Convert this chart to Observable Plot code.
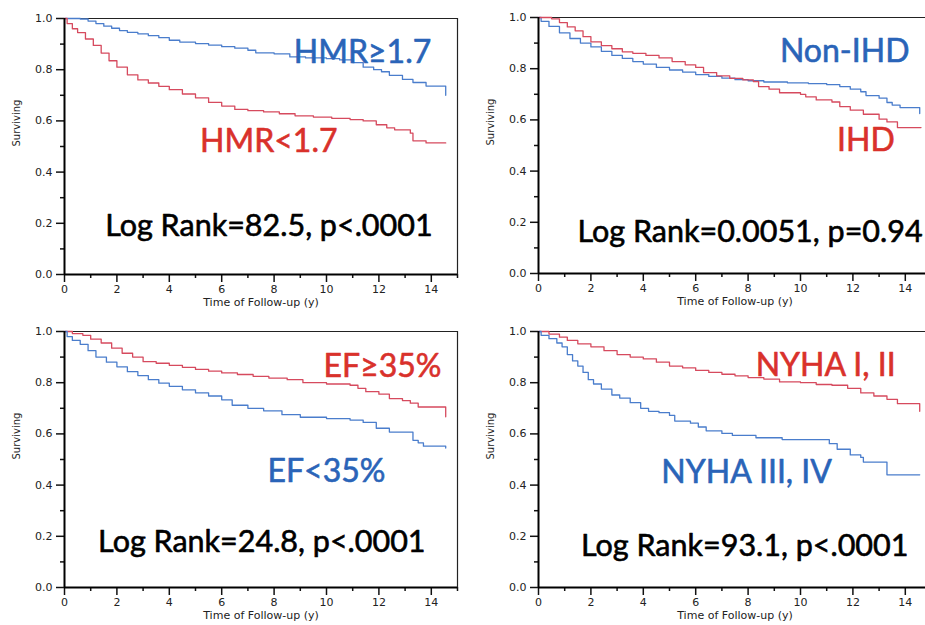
<!DOCTYPE html>
<html><head><meta charset="utf-8">
<script src="https://cdn.jsdelivr.net/npm/d3@7"></script>
<script src="https://cdn.jsdelivr.net/npm/@observablehq/plot@0.6"></script>
<style>
html,body{margin:0;padding:0;background:#fff;overflow:hidden;width:925px;height:625px;position:relative}
.panel{position:absolute;width:462px;height:310px}
.panel svg{max-width:none !important}
</style></head><body>
<div id="p1" class="panel" style="left:0;top:0"></div>
<div id="p2" class="panel" style="left:474px;top:-1px"></div>
<div id="p3" class="panel" style="left:0;top:313px"></div>
<div id="p4" class="panel" style="left:474px;top:313px"></div>
<script>
// ---- axis ticks ----
const xTicks = [0, 2, 4, 6, 8, 10, 12, 14];
const xMinor = [1, 3, 5, 7, 9, 11, 13, 15];
const yTicks = [0, 0.2, 0.4, 0.6, 0.8, 1.0];
const yMinor = [0.1, 0.3, 0.5, 0.7, 0.9];
const xLabel = "Time of Follow-up (y)";
const yLabel = "Surviving";

// ---- Panel 1: HMR ----  [time (y), surviving]
const hmrHigh = [[0,1],[0.6,0.998],[0.9,0.99],[1.2,0.98],[1.5,0.97],[1.8,0.962],[2.1,0.953],[2.4,0.946],[2.8,0.94],[3.2,0.933],[3.6,0.925],[4.0,0.915],[4.4,0.908],[5.0,0.902],[5.5,0.896],[6.0,0.89],[6.5,0.884],[7.0,0.876],[7.3,0.866],[8.0,0.862],[8.6,0.85],[9.2,0.846],[10.0,0.843],[10.5,0.838],[11.0,0.828],[11.4,0.81],[11.8,0.8],[12.1,0.792],[12.4,0.778],[12.9,0.762],[13.3,0.75],[13.8,0.736],[14.55,0.736],[14.55,0.70]];
const hmrLow = [[0,1],[0.1,0.98],[0.3,0.96],[0.5,0.945],[0.8,0.92],[1.1,0.895],[1.4,0.865],[1.7,0.835],[2.0,0.81],[2.4,0.78],[2.8,0.76],[3.2,0.748],[3.6,0.735],[4.0,0.722],[4.5,0.705],[5.0,0.69],[5.5,0.672],[6.0,0.658],[6.5,0.645],[7.0,0.64],[7.6,0.635],[8.2,0.628],[8.8,0.62],[9.5,0.615],[10.2,0.61],[10.9,0.605],[11.4,0.6],[11.9,0.585],[12.3,0.573],[12.6,0.565],[13.2,0.552],[13.3,0.522],[13.8,0.514],[14.55,0.514]];
const hmrTexts = ["HMR\u22651.7", "HMR<1.7", "Log Rank=82.5, p<.0001"];

// ---- Panel 2: IHD ----
const nonIhd = [[0,1],[0.1,0.985],[0.4,0.965],[0.8,0.94],[1.2,0.918],[1.6,0.9],[2.0,0.885],[2.4,0.868],[2.8,0.852],[3.2,0.84],[3.6,0.828],[4.0,0.818],[4.5,0.805],[5.0,0.795],[5.5,0.787],[6.0,0.777],[6.5,0.77],[7.0,0.763],[7.5,0.757],[8.0,0.753],[8.6,0.748],[9.5,0.745],[10.3,0.742],[11.0,0.738],[11.5,0.73],[11.9,0.72],[12.3,0.71],[12.5,0.695],[13.0,0.685],[13.3,0.668],[13.5,0.658],[13.8,0.648],[14.55,0.648],[14.55,0.625]];
const ihd = [[0,1],[0.5,0.995],[0.8,0.98],[1.1,0.963],[1.4,0.948],[1.7,0.925],[2.0,0.905],[2.4,0.89],[2.8,0.878],[3.2,0.866],[3.6,0.86],[4.1,0.852],[4.6,0.842],[5.1,0.828],[5.6,0.815],[6.0,0.805],[6.3,0.785],[6.8,0.772],[7.3,0.762],[7.8,0.756],[8.2,0.75],[8.4,0.73],[8.8,0.72],[9.2,0.706],[10.0,0.7],[10.2,0.69],[10.6,0.678],[11.2,0.67],[11.5,0.652],[11.9,0.638],[12.4,0.622],[13.0,0.603],[13.3,0.592],[13.7,0.57],[14.6,0.57]];
const ihdTexts = ["Non-IHD", "IHD", "Log Rank=0.0051, p=0.94"];

// ---- Panel 3: EF ----
const efHigh = [[0,1],[0.3,0.992],[0.7,0.985],[1.0,0.97],[1.4,0.955],[1.8,0.935],[2.2,0.915],[2.6,0.9],[3.0,0.882],[3.5,0.876],[4.0,0.868],[4.5,0.86],[5.0,0.852],[5.5,0.845],[6.0,0.838],[6.6,0.832],[7.2,0.825],[7.8,0.818],[8.5,0.812],[9.1,0.8],[10.0,0.795],[10.9,0.79],[11.2,0.778],[11.5,0.765],[12.0,0.755],[12.4,0.738],[12.9,0.73],[13.2,0.72],[13.5,0.705],[14.55,0.705],[14.55,0.667]];
const efLow = [[0,1],[0.1,0.98],[0.3,0.965],[0.6,0.95],[0.9,0.925],[1.2,0.9],[1.6,0.88],[2.0,0.862],[2.4,0.843],[2.8,0.828],[3.2,0.812],[3.6,0.798],[4.0,0.786],[4.5,0.772],[5.0,0.76],[5.5,0.748],[6.0,0.733],[6.4,0.712],[7.0,0.7],[7.6,0.69],[8.3,0.675],[9.0,0.665],[10.0,0.66],[10.9,0.654],[11.4,0.645],[11.9,0.622],[12.4,0.607],[13.3,0.575],[13.5,0.565],[13.7,0.552],[14.55,0.545]];
const efTexts = ["EF\u226535%", "EF<35%", "Log Rank=24.8, p<.0001"];

// ---- Panel 4: NYHA ----
const nyhaLow = [[0,1],[0.4,0.99],[0.8,0.978],[1.1,0.965],[1.5,0.952],[2.0,0.94],[2.5,0.925],[3.0,0.91],[3.5,0.9],[4.0,0.893],[4.5,0.88],[5.0,0.865],[5.5,0.858],[6.0,0.848],[6.5,0.84],[7.0,0.833],[7.5,0.827],[8.0,0.82],[8.6,0.814],[9.2,0.803],[10.0,0.8],[10.6,0.793],[11.2,0.79],[11.8,0.778],[12.3,0.76],[12.8,0.748],[13.3,0.735],[13.7,0.718],[14.55,0.712],[14.55,0.688]];
const nyhaHigh = [[0,1],[0.1,0.985],[0.4,0.972],[0.7,0.955],[0.9,0.94],[1.1,0.91],[1.3,0.885],[1.5,0.865],[1.7,0.84],[1.9,0.812],[2.1,0.795],[2.4,0.775],[2.8,0.752],[3.1,0.74],[3.5,0.722],[3.9,0.7],[4.2,0.688],[4.6,0.683],[5.0,0.672],[5.2,0.65],[5.8,0.642],[6.1,0.627],[6.4,0.612],[7.0,0.602],[7.4,0.594],[8.2,0.594],[8.3,0.585],[9.3,0.578],[10.9,0.578],[11.1,0.562],[11.4,0.54],[11.9,0.518],[12.3,0.508],[12.4,0.49],[13.3,0.49],[13.3,0.44],[14.55,0.44]];
const nyhaTexts = ["NYHA I, II", "NYHA III, IV", "Log Rank=93.1, p<.0001"];

// ---- styling ----
const COLORS = {blueLine: "#4a7dcc", redLine: "#d64a5e", blueText: "#2a64b8", redText: "#d9312b", black: "#000"};

function panel(curves, notes) {
  const marks = [
    Plot.ruleY([1], {stroke: "#222", strokeWidth: 1.2}),
    Plot.ruleX([15], {stroke: "#222", strokeWidth: 1.2}),
    Plot.axisX(xMinor, {tickSize: 4, tickFormat: () => "", strokeWidth: 1.5, stroke: "#111"}),
    Plot.axisX(xTicks, {tickSize: 8, tickPadding: 3, strokeWidth: 1.5, stroke: "#111", fill: "#222", label: null}),
    Plot.axisY(yMinor, {tickSize: 4, tickFormat: () => "", strokeWidth: 1.5, stroke: "#111"}),
    Plot.axisY(yTicks, {tickSize: 8, tickPadding: 4, tickFormat: d3.format(".1f"), strokeWidth: 1.5, stroke: "#111", fill: "#222", label: null}),
    Plot.text([xLabel], {frameAnchor: "bottom", dy: 31, fontSize: 11, fill: "#222"}),
    Plot.text([yLabel], {frameAnchor: "left", dx: -48, rotate: -90, fontSize: 10, fill: "#222"})
  ];
  for (const c of curves) {
    marks.push(Plot.line(c.data, {x: d => d[0], y: d => d[1], curve: "step-after", stroke: COLORS[c.color], strokeWidth: 1.3}));
  }
  marks.push(Plot.ruleX([0], {stroke: "#000", strokeWidth: 2}));
  marks.push(Plot.ruleY([0], {stroke: "#000", strokeWidth: 2}));
  for (const n of notes) {
    marks.push(Plot.text([n.text], {x: n.x, y: n.y, textAnchor: "end", lineAnchor: "bottom",
      fill: COLORS[n.color], stroke: COLORS[n.color], strokeWidth: 0.6,
      fontSize: n.size, fontFamily: "Lato"}));
  }
  return Plot.plot({
    width: 462, height: 310,
    marginLeft: 64, marginTop: 18, marginBottom: 36, marginRight: 5,
    style: {fontFamily: "DejaVu Sans", fontSize: "11px", background: "transparent", overflow: "visible", maxWidth: "none"},
    x: {domain: [0, 15]},
    y: {domain: [0, 1]},
    marks
  });
}

document.getElementById("p1").append(panel(
  [{data: hmrHigh, color: "blueLine"}, {data: hmrLow, color: "redLine"}],
  [{text: hmrTexts[0], x: 14.0, y: 0.828, color: "blueText", size: 32},
   {text: hmrTexts[1], x: 10.42, y: 0.48, color: "redText", size: 32},
   {text: hmrTexts[2], x: 14.05, y: 0.152, color: "black", size: 30.5}]));

document.getElementById("p2").append(panel(
  [{data: nonIhd, color: "blueLine"}, {data: ihd, color: "redLine"}],
  [{text: ihdTexts[0], x: 14.16, y: 0.828, color: "blueText", size: 32},
   {text: ihdTexts[1], x: 13.6, y: 0.477, color: "redText", size: 32},
   {text: ihdTexts[2], x: 14.66, y: 0.125, color: "black", size: 30.5}]));

document.getElementById("p3").append(panel(
  [{data: efHigh, color: "redLine"}, {data: efLow, color: "blueLine"}],
  [{text: efTexts[0], x: 14.39, y: 0.824, color: "redText", size: 32},
   {text: efTexts[1], x: 12.25, y: 0.414, color: "blueText", size: 32},
   {text: efTexts[2], x: 13.78, y: 0.14, color: "black", size: 30.5}]));

document.getElementById("p4").append(panel(
  [{data: nyhaLow, color: "redLine"}, {data: nyhaHigh, color: "blueLine"}],
  [{text: nyhaTexts[0], x: 13.63, y: 0.828, color: "redText", size: 32},
   {text: nyhaTexts[1], x: 11.2, y: 0.41, color: "blueText", size: 32},
   {text: nyhaTexts[2], x: 14.12, y: 0.125, color: "black", size: 30.5}]));
</script>
</body></html>
